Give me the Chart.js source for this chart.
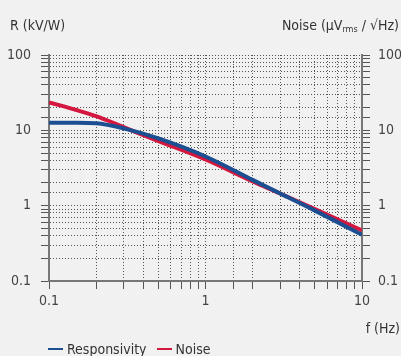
<!DOCTYPE html>
<html>
<head>
<meta charset="utf-8">
<script src="https://cdn.jsdelivr.net/npm/chart.js@4.4.1/dist/chart.umd.min.js"></script>
<style>
  body { margin: 0; background: #f1f1f1; }
  #wrap { position: relative; width: 401px; height: 356px; font-family: "Liberation Sans Narrow", "DejaVu Sans Condensed", sans-serif; color: #333; font-size: 14px; }
  canvas { position: absolute; left: 0; top: 0; }
  .lbl { position: absolute; white-space: nowrap; line-height: 16px; }
  .lbl sub { font-size: 9px; vertical-align: -2px; line-height: 0; }
  .key { display: inline-block; width: 15px; height: 2px; vertical-align: middle; margin-right: 4px; position: relative; top: -1px; }
</style>
</head>
<body>
<div id="wrap">
  <canvas id="myChart" width="401" height="356"></canvas>
  <div class="lbl" style="left:10px; top:17px;">R (kV/W)</div>
  <div class="lbl" style="right:2px; top:17px;">Noise (µV<sub>rms</sub> / √Hz)</div>
  <div class="lbl" style="right:1px; top:320px;">f (Hz)</div>
  <div class="lbl" style="left:48px; top:341px;"><span class="key" style="background:#1b4f91"></span>Responsivity<span style="display:inline-block;width:10px"></span><span class="key" style="background:#d3173f"></span>Noise</div>
</div>
<script>
// frequency (Hz)
var freq = [0.1, 0.15, 0.2, 0.3, 0.5, 1, 2, 3, 5, 10];
// responsivity (kV/W)
var responsivity = [12.6, 12.6, 12.4, 10.6, 7.8, 4.5, 2.2, 1.45, 0.86, 0.41];
// noise (µVrms/√Hz)
var noise = [23.5, 18.6, 15.4, 11.0, 7.2, 4.1, 2.1, 1.45, 0.9, 0.47];
var yTicks = [0.1, 1, 10, 100];
var xTicks = [0.1, 1, 10];

function pts(ys) {
    return freq.map(function(f, i) { return { x: f, y: ys[i] }; });
}
function majorLabel(list) {
    return function(v) {
        for (var i = 0; i < list.length; i++) {
            if (Math.abs(v - list[i]) < list[i] * 1e-6) return String(list[i]);
        }
        return '';
    };
}

var gridStyle = { color: '#555', lineWidth: 1, tickLength: 8 };
var tickFont = { family: '"Liberation Sans Narrow", "DejaVu Sans Condensed", sans-serif', size: 14 };

const ctx = document.getElementById('myChart').getContext('2d');
const myChart = new Chart(ctx, {
    type: 'line',
    data: {
        datasets: [{
            label: 'Responsivity',
            data: pts(responsivity),
            borderColor: '#1b4f91',
            borderWidth: 4,
            pointRadius: 0,
            cubicInterpolationMode: 'monotone',
            yAxisID: 'y'
        }, {
            label: 'Noise',
            data: pts(noise),
            borderColor: '#d3173f',
            borderWidth: 4,
            pointRadius: 0,
            cubicInterpolationMode: 'monotone',
            yAxisID: 'y2'
        }]
    },
    options: {
        responsive: false,
        animation: false,
        layout: { padding: { top: 55, left: 0, right: 0, bottom: 0 } },
        plugins: { legend: { display: false }, tooltip: { enabled: false } },
        scales: {
            x: {
                type: 'logarithmic',
                min: 0.1, max: 10,
                grid: gridStyle,
                border: { display: true, color: '#777', width: 2, dash: [1, 2] },
                ticks: { autoSkip: false, maxRotation: 0, padding: 4, color: '#444', font: tickFont, callback: majorLabel(xTicks) },
                afterFit: function(s) { s.height = 75; }
            },
            y: {
                type: 'logarithmic',
                position: 'left',
                min: 0.1, max: 100,
                grid: gridStyle,
                border: { display: true, color: '#777', width: 2, dash: [1, 2] },
                ticks: { autoSkip: false, padding: 10, color: '#444', font: tickFont, callback: majorLabel(yTicks) },
                afterFit: function(s) { s.width = 49; }
            },
            y2: {
                type: 'logarithmic',
                position: 'right',
                min: 0.1, max: 100,
                grid: { color: '#555', lineWidth: 1, tickLength: 8, drawOnChartArea: false },
                border: { display: true, color: '#777', width: 2, dash: [1, 2] },
                ticks: { autoSkip: false, padding: 8, color: '#444', font: tickFont, callback: majorLabel(yTicks) },
                afterFit: function(s) { s.width = 39; }
            }
        }
    }
});
</script>
</body>
</html>
